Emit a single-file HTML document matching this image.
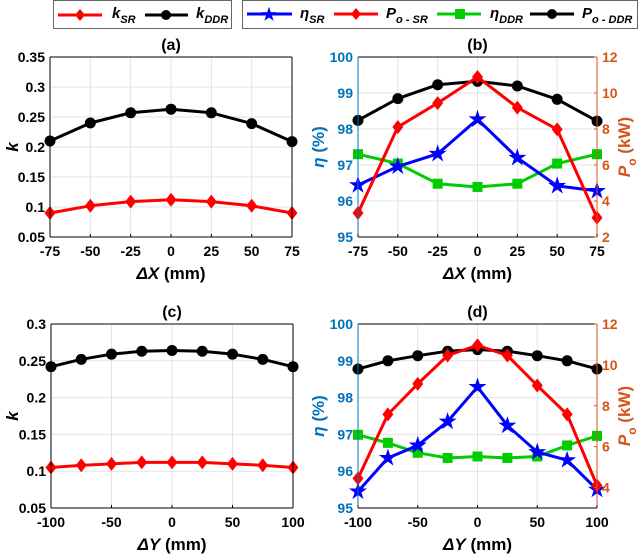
<!DOCTYPE html>
<html><head><meta charset="utf-8">
<style>
html,body{margin:0;padding:0;background:#fff;}
svg{display:block;font-family:"Liberation Sans",Arial,sans-serif;font-weight:bold;}
</style></head>
<body>
<svg id="fig" width="641" height="557" viewBox="0 0 641 557" xmlns="http://www.w3.org/2000/svg">
<g>
  <rect x="53.5" y="0.5" width="178" height="28" fill="#fff" stroke="#666" stroke-width="1"/>
  <line x1="58" y1="15" x2="102" y2="15" stroke="#ff0000" stroke-width="3"/>
  <polygon points="80,9 85,15 80,21 75,15" fill="#ff0000"/>
  <text x="112" y="18" font-size="15" font-style="italic">k<tspan font-size="11" dy="5">SR</tspan></text>
  <line x1="145" y1="15" x2="188" y2="15" stroke="#000" stroke-width="3"/>
  <circle cx="166" cy="15" r="5" fill="#000"/>
  <text x="196" y="18" font-size="15" font-style="italic">k<tspan font-size="11" dy="5">DDR</tspan></text>
</g>
<g>
  <rect x="242.5" y="0.5" width="395" height="28" fill="#fff" stroke="#666" stroke-width="1"/>
  <line x1="247" y1="14" x2="292" y2="14" stroke="#0000ff" stroke-width="3"/>
  <text x="269" y="20" font-size="17" fill="#0000ff" text-anchor="middle">★</text>
  <text x="300" y="18" font-size="15" font-style="italic">η<tspan font-size="11" dy="5">SR</tspan></text>
  <line x1="334" y1="14" x2="378" y2="14" stroke="#ff0000" stroke-width="3"/>
  <polygon points="356,8 361,14 356,20 351,14" fill="#ff0000"/>
  <text x="386" y="18" font-size="15" font-style="italic">P<tspan font-size="11" dy="5">o - SR</tspan></text>
  <line x1="437" y1="14" x2="481" y2="14" stroke="#00cc00" stroke-width="3"/>
  <rect x="455" y="9" width="10" height="10" fill="#00cc00"/>
  <text x="490" y="18" font-size="15" font-style="italic">η<tspan font-size="11" dy="5">DDR</tspan></text>
  <line x1="530" y1="14" x2="574" y2="14" stroke="#000" stroke-width="3"/>
  <circle cx="552" cy="14" r="5" fill="#000"/>
  <text x="582" y="18" font-size="15" font-style="italic">P<tspan font-size="11" dy="5">o - DDR</tspan></text>
</g>
</svg>
<script>
// ---- data ----
const xA = [-75,-50,-25,0,25,50,75];
const kDDR_A = [0.21,0.24,0.257,0.263,0.257,0.239,0.209];
const kSR_A = [0.09,0.102,0.109,0.112,0.109,0.102,0.09];
const xC = [-100,-75,-50,-25,0,25,50,75,100];
const kDDR_C = [0.242,0.252,0.259,0.263,0.264,0.263,0.259,0.252,0.242];
const kSR_C = [0.105,0.108,0.11,0.112,0.112,0.112,0.11,0.108,0.105];
const etaSR_B = [96.44,96.96,97.31,98.27,97.2,96.42,96.28];
const etaDDR_B = [97.3,97.04,96.48,96.39,96.48,97.04,97.3];
const pSR_B = [3.33,8.11,9.44,10.89,9.19,7.98,3.07];
const pDDR_B = [8.48,9.69,10.46,10.65,10.39,9.65,8.44];
const etaSR_D = [95.45,96.36,96.7,97.35,98.29,97.24,96.52,96.3,95.5];
const etaDDR_D = [96.99,96.77,96.5,96.36,96.4,96.36,96.4,96.7,96.96];
const pSR_D = [4.45,7.58,9.07,10.46,10.96,10.46,8.99,7.58,4.1];
const pDDR_D = [9.8,10.2,10.45,10.67,10.75,10.67,10.45,10.2,9.8];
const kTicksA = [0.05,0.1,0.15,0.2,0.25,0.3,0.35];
const kTicksC = [0.05,0.1,0.15,0.2,0.25,0.3];
const etaTicks = [95,96,97,98,99,100];
const pTicksB = [2,4,6,8,10,12];
const pTicksD = [4,6,8,10,12];

const NS="http://www.w3.org/2000/svg";
const svg=document.getElementById('fig');
function el(tag,attrs,parent){const e=document.createElementNS(NS,tag);for(const k in attrs)e.setAttribute(k,attrs[k]);(parent||svg).appendChild(e);return e;}
const BLUE="#0072bd", ORANGE="#d95319";

function marker(g,type,x,y,color){
  let m;
  if(type==='circle') m=el('circle',{cx:x,cy:y,r:5.5,fill:color},g);
  else if(type==='diamond') m=el('polygon',{points:`${x},${y-7} ${x+5.5},${y} ${x},${y+7} ${x-5.5},${y}`,fill:color},g);
  else if(type==='square') m=el('rect',{x:x-5,y:y-5,width:10,height:10,fill:color},g);
  else { const p=[];for(let i=0;i<10;i++){const r=i%2?3.6:9.5;const a=-Math.PI/2+i*Math.PI/5;p.push((x+r*Math.cos(a)).toFixed(1)+','+(y+r*Math.sin(a)).toFixed(1));} m=el('polygon',{points:p.join(' '),fill:color},g);}
  return m;
}
function series(g,xs,ys,sx,sy,color,type,name){
  const s=el('g',{},g);
  
  
  el('polyline',{points:xs.map((x,i)=>sx(x)+','+sy(ys[i])).join(' '),fill:'none',stroke:color,'stroke-width':3,'stroke-linejoin':'round'},s);
  xs.forEach((x,i)=>{const m=marker(s,type,sx(x),sy(ys[i]),color);
    
    });
}
function panel(o){
  const g=el('g',{});
  
  
  const sx=v=>o.x0+(v-o.xmin)/(o.xmax-o.xmin)*(o.x1-o.x0);
  const sy=(v,mn,mx)=>o.y1-(v-mn)/(mx-mn)*(o.y1-o.y0);
  const syL=v=>sy(v,o.lmin,o.lmax), syR=v=>sy(v,o.rmin,o.rmax);
  o.xt.forEach(t=>el('line',{x1:sx(t),x2:sx(t),y1:o.y0,y2:o.y1,stroke:'#e3e3e3','stroke-width':1},g));
  o.lt.forEach(t=>el('line',{x1:o.x0,x2:o.x1,y1:syL(t),y2:syL(t),stroke:'#e3e3e3','stroke-width':1},g));
  o.series.forEach(s=>series(g,o.xs,s.ys,sx,s.right?syR:syL,s.color,s.type,s.name));
  const lc=o.right?BLUE:'#000';
  el('line',{x1:o.x0,x2:o.x1,y1:o.y1,y2:o.y1,stroke:'#000','stroke-width':1},g);
  el('line',{x1:o.x0,x2:o.x1,y1:o.y0,y2:o.y0,stroke:'#000','stroke-width':1},g);
  el('line',{x1:o.x0,x2:o.x0,y1:o.y0,y2:o.y1,stroke:lc,'stroke-width':1},g);
  el('line',{x1:o.x1,x2:o.x1,y1:o.y0,y2:o.y1,stroke:o.right?ORANGE:'#000','stroke-width':1},g);
  o.xt.forEach(t=>{el('line',{x1:sx(t),x2:sx(t),y1:o.y1,y2:o.y1-3,stroke:'#000'},g);
    const tx=el('text',{x:sx(t),y:o.y1+19,'font-size':14,'text-anchor':'middle'},g);tx.textContent=t;
    
    });
  o.lt.forEach(t=>{const tx=el('text',{x:o.x0-5,y:syL(t)+5,'font-size':14,'text-anchor':'end',fill:lc},g);tx.textContent=t;
    
    });
  if(o.right) o.rt.forEach(t=>{el('line',{x1:o.x1,x2:o.x1-3,y1:syR(t),y2:syR(t),stroke:ORANGE},g);
    const tx=el('text',{x:o.x1+5,y:syR(t)+5,'font-size':14,fill:ORANGE},g);tx.textContent=t;
    
    });
  const ti=el('text',{x:(o.x0+o.x1)/2,y:o.y0-7,'font-size':16,'text-anchor':'middle'},g);ti.textContent=o.title;
  
  
  const xl=el('text',{x:(o.x0+o.x1)/2,y:o.y1+42,'font-size':17,'text-anchor':'middle'},g);
  xl.innerHTML='<tspan font-style="italic">Δ'+o.xv+'</tspan> (mm)';
  
  
  const cy=(o.y0+o.y1)/2;
  const yl=el('text',{x:0,y:0,'font-size':17,'text-anchor':'middle',fill:lc,transform:`translate(${o.right?o.x0-34:18},${cy}) rotate(-90)`},g);
  yl.innerHTML=o.right?'<tspan font-style="italic">η</tspan> (%)':'<tspan font-style="italic">k</tspan>';
  
  
  if(o.right){const yr=el('text',{x:0,y:0,'font-size':17,'text-anchor':'middle',fill:ORANGE,transform:`translate(${o.x1+33},${cy}) rotate(-90)`},g);
    yr.innerHTML='<tspan font-style="italic">P</tspan><tspan font-size="12" dy="6">o</tspan><tspan dy="-6"> (kW)</tspan>';
    
    }
}
panel({name:'panel-a',title:'(a)',xv:'X',x0:50,x1:292,y0:57,y1:237,xmin:-75,xmax:75,xt:xA,xs:xA,lmin:0.05,lmax:0.35,lt:kTicksA,
  series:[{ys:kDDR_A,color:'#000',type:'circle',name:'kddr-line'},{ys:kSR_A,color:'#ff0000',type:'diamond',name:'ksr-line'}]});
panel({name:'panel-c',title:'(c)',xv:'Y',x0:51,x1:293,y0:324,y1:508,xmin:-100,xmax:100,xt:[-100,-50,0,50,100],xs:xC,lmin:0.05,lmax:0.3,lt:kTicksC,
  series:[{ys:kDDR_C,color:'#000',type:'circle',name:'kddr-line'},{ys:kSR_C,color:'#ff0000',type:'diamond',name:'ksr-line'}]});
panel({name:'panel-b',title:'(b)',xv:'X',right:true,x0:358,x1:597,y0:57,y1:237,xmin:-75,xmax:75,xt:xA,xs:xA,lmin:95,lmax:100,lt:etaTicks,rmin:2,rmax:12,rt:pTicksB,
  series:[{ys:pDDR_B,right:true,color:'#000',type:'circle',name:'po-ddr-line'},{ys:etaDDR_B,color:'#00cc00',type:'square',name:'eta-ddr-line'},
          {ys:etaSR_B,color:'#0000ff',type:'star',name:'eta-sr-line'},{ys:pSR_B,right:true,color:'#ff0000',type:'diamond',name:'po-sr-line'}]});
panel({name:'panel-d',title:'(d)',xv:'Y',right:true,x0:358,x1:597,y0:324,y1:508,xmin:-100,xmax:100,xt:[-100,-50,0,50,100],xs:xC,lmin:95,lmax:100,lt:etaTicks,rmin:3,rmax:12,rt:pTicksD,
  series:[{ys:pDDR_D,right:true,color:'#000',type:'circle',name:'po-ddr-line'},{ys:etaDDR_D,color:'#00cc00',type:'square',name:'eta-ddr-line'},
          {ys:etaSR_D,color:'#0000ff',type:'star',name:'eta-sr-line'},{ys:pSR_D,right:true,color:'#ff0000',type:'diamond',name:'po-sr-line'}]});
</script>
</body></html>
